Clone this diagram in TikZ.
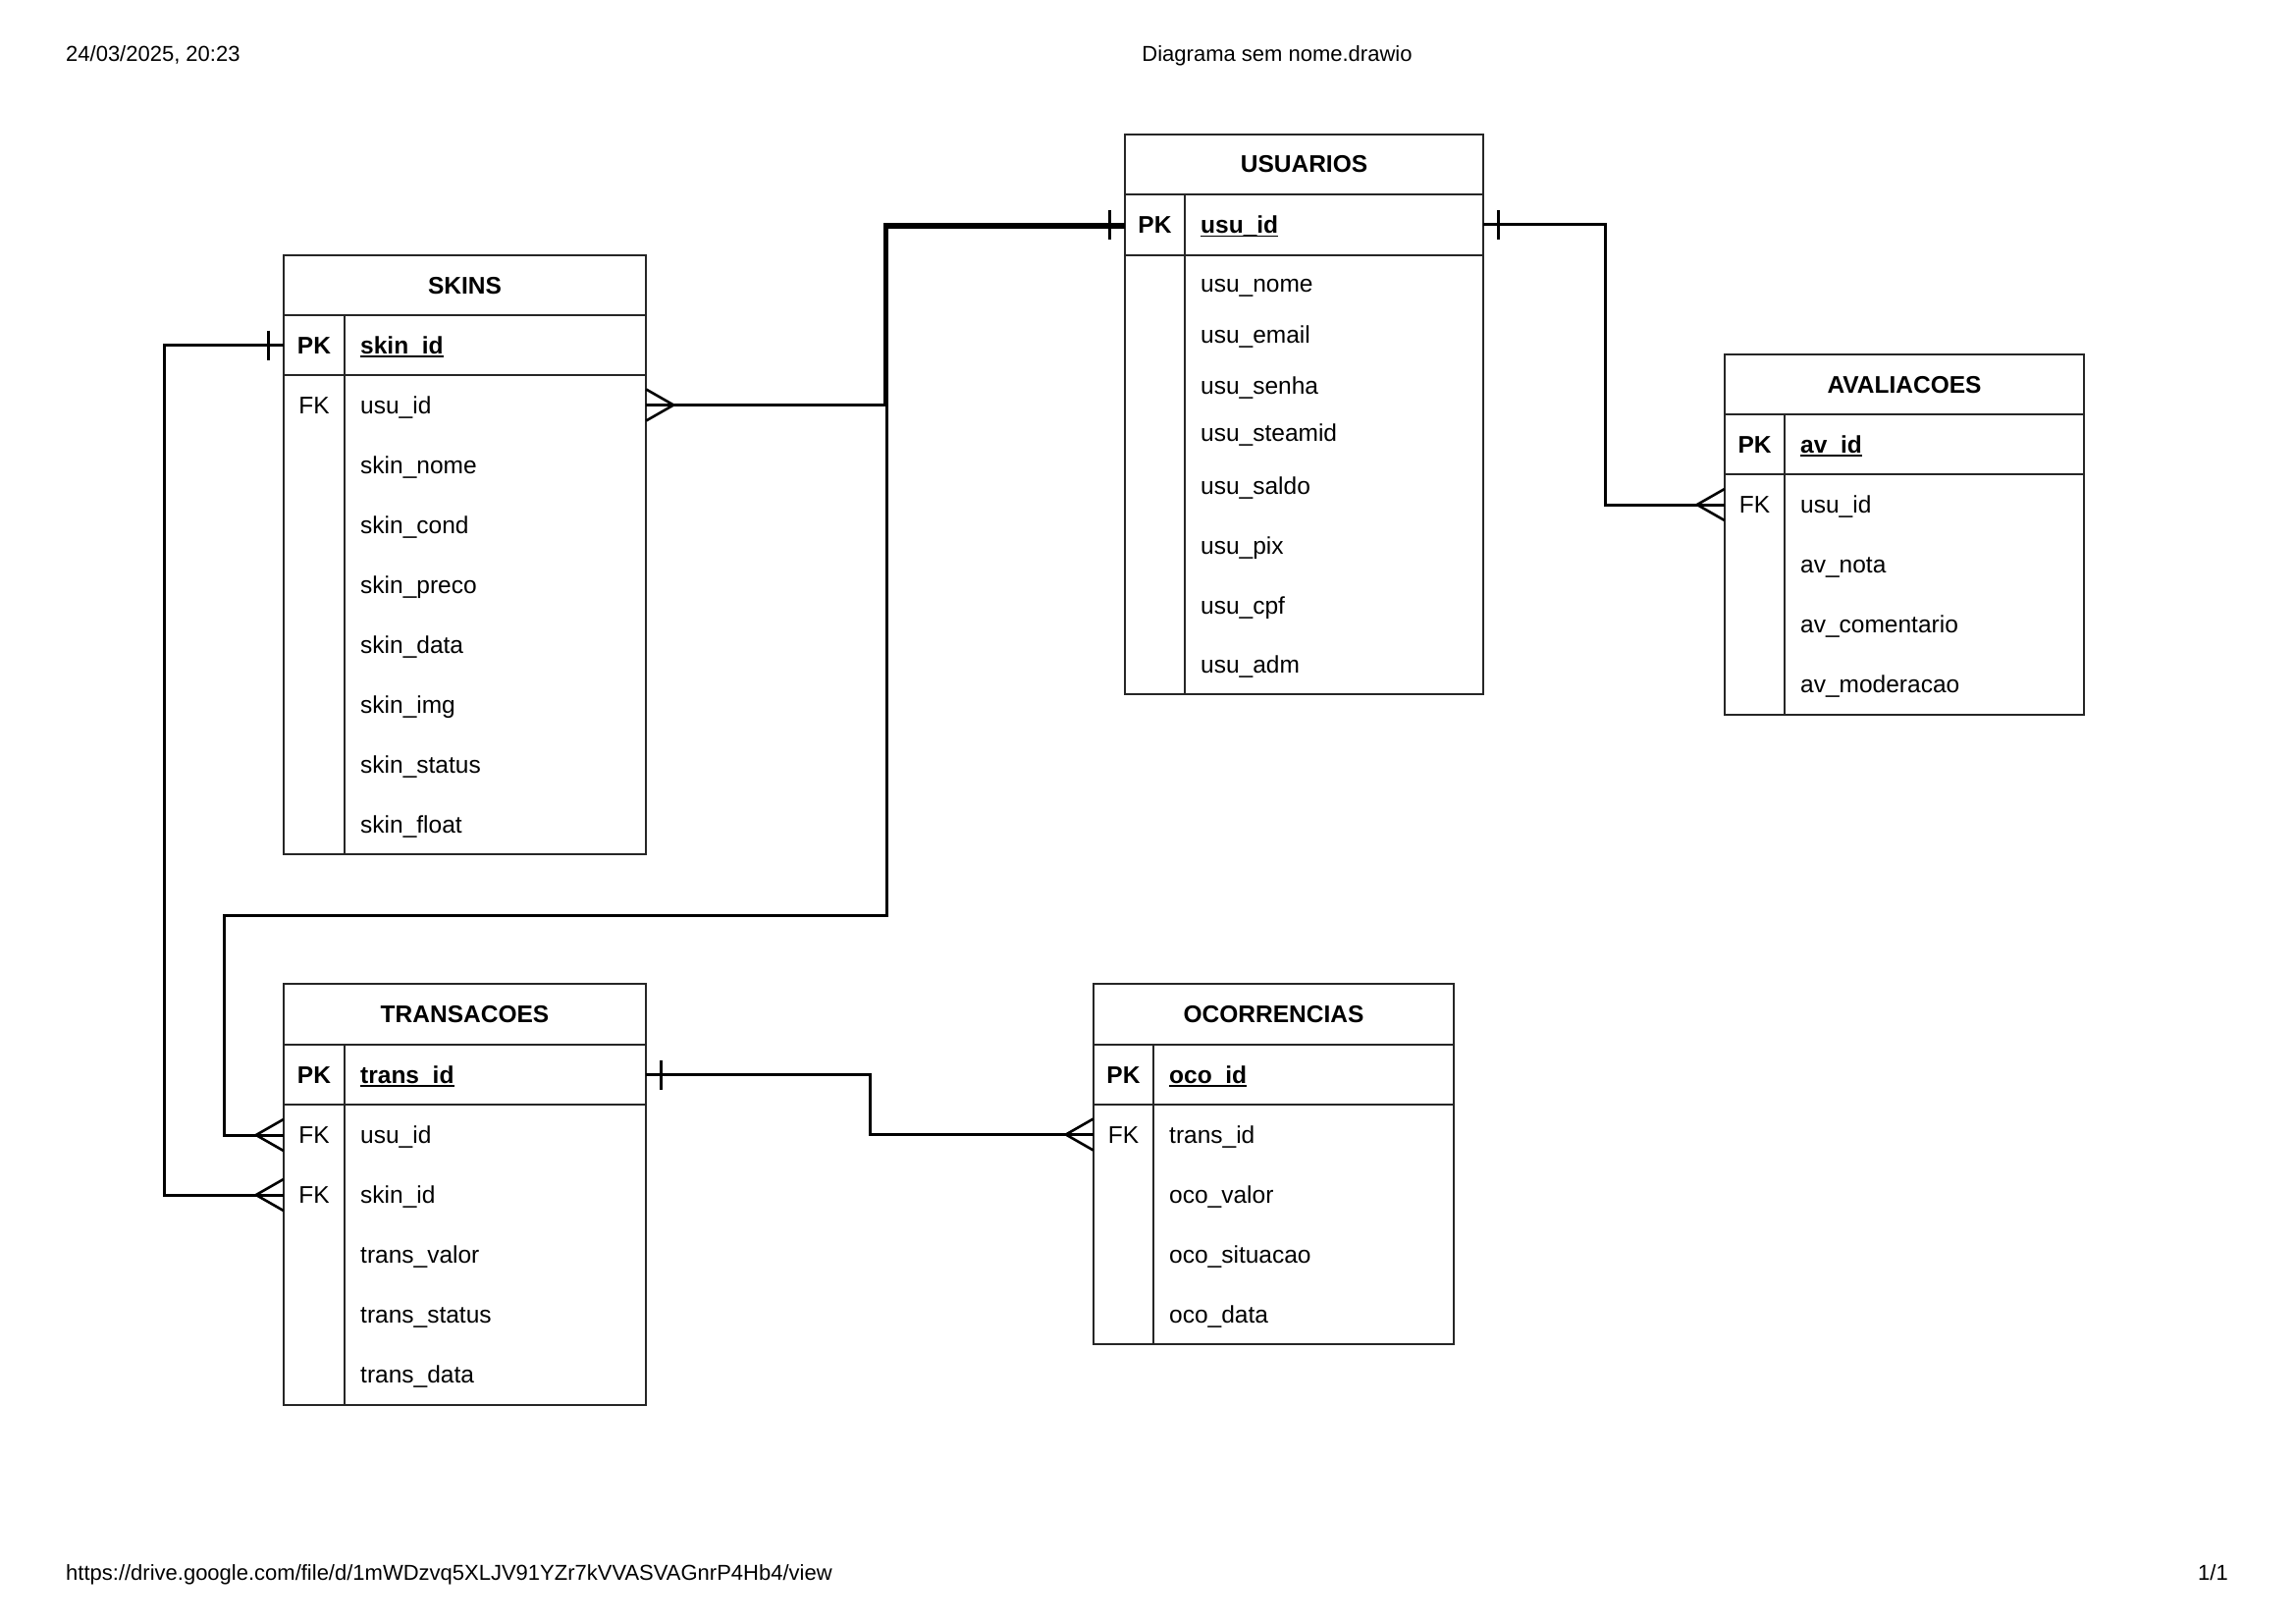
\documentclass[tikz,border=0pt]{standalone}
\usepackage{fontspec}
\setmainfont{Liberation Sans}

% table frame: #1 name, #2 left, #3 right, #4 top, #5 header rule,
% #6 key-row rule, #7 bottom, #8 key column rule, #9 title
\newcommand\ertable[9]{%
  \draw[tbl] (#2,#4) rectangle (#3,#7);
  \draw[tbl] (#2,#5) -- (#3,#5);
  \draw[tbl] (#2,#6) -- (#3,#6);
  \draw[tbl] (#8,#5) -- (#8,#7);
  \node[ttl] (#1-title) at ({(#2+#3)/2},{(#4+#5)/2+8.5}) {#9};
}
% one attribute row: #1 name, #2 left, #3 right, #4 key column rule,
% #5 row centre, #6 key label, #7 attribute, #8 text style
\newcommand\erfield[8]{%
  \node[rowbox, minimum width={(#3-#2)*1pt}] (#1) at ({(#2+#3)/2},#5) {};
  \node[keyl] (#1-key) at ({(#2+#4)/2},{#5+8.5}) {#6};
  \node[#8] (#1-name) at ({#4+16},{#5+8.5}) {#7};
}
\newcommand\pkline[1]{%
  \draw[line width=1.6pt] ([yshift=-3pt]#1-name.base west) -- ([yshift=-3pt]#1-name.base east);
}

\begin{document}
\begin{tikzpicture}[x=1pt,y=-1pt,
  tbl/.style={draw=black!85, line width=2pt},
  conn/.style={draw=black, line width=3pt},
  foot/.style={draw=black, line width=2.6pt},
  rowbox/.style={inner sep=0pt, minimum height=61pt},
  ttl/.style={font=\fontsize{24.5}{29}\selectfont\bfseries, inner sep=0pt, anchor=base},
  fld/.style={font=\fontsize{24.5}{29}\selectfont, inner sep=0pt, anchor=base west},
  pkfld/.style={font=\fontsize{24.5}{29}\selectfont\bfseries, inner sep=0pt, anchor=base west},
  keyl/.style={font=\fontsize{24.5}{29}\selectfont, inner sep=0pt, anchor=base},
  pagetxt/.style={font=\fontsize{22}{26}\selectfont, inner sep=0pt, anchor=base},
  onemark/.pic={\draw[conn] (15,-15) -- (15,15);},
  manymark/.pic={\draw[foot] (0,-16) -- (28,0) -- (0,16);},
]
\useasboundingbox[fill=white] (0,0) rectangle (2339,1653);

% page header and footer
\node[pagetxt, anchor=base west] (stamp) at (67,63) {24/03/2025, 20:23};
\node[pagetxt] (doctitle) at (1301,63) {Diagrama sem nome.drawio};
\node[pagetxt, anchor=base west] (url) at (67,1609) {https://drive.google.com/file/d/1mWDzvq5XLJV91YZr7kVVASVAGnrP4Hb4/view};
\node[pagetxt, anchor=base east] (pageno) at (2270,1609) {1/1};

% SKINS
\ertable{skins}{289}{658}{260}{321}{382}{870}{351}{SKINS}
\erfield{skins-pk}{289}{658}{351}{351.5}{\bfseries PK}{skin\_id}{pkfld}
\pkline{skins-pk}
\erfield{skins-usu}{289}{658}{351}{412.5}{FK}{usu\_id}{fld}
\erfield{skins-nome}{289}{658}{351}{473.5}{}{skin\_nome}{fld}
\erfield{skins-cond}{289}{658}{351}{534.5}{}{skin\_cond}{fld}
\erfield{skins-preco}{289}{658}{351}{595.5}{}{skin\_preco}{fld}
\erfield{skins-data}{289}{658}{351}{656.5}{}{skin\_data}{fld}
\erfield{skins-img}{289}{658}{351}{717.5}{}{skin\_img}{fld}
\erfield{skins-status}{289}{658}{351}{778.5}{}{skin\_status}{fld}
\erfield{skins-float}{289}{658}{351}{839.5}{}{skin\_float}{fld}

% USUARIOS
\ertable{usu}{1146}{1511}{137}{198}{260}{707}{1207}{USUARIOS}
\erfield{usu-pk}{1146}{1511}{1207}{229}{\bfseries PK}{usu\_id}{pkfld}
\pkline{usu-pk}
\erfield{usu-nome}{1146}{1511}{1207}{289}{}{usu\_nome}{fld}
\erfield{usu-email}{1146}{1511}{1207}{341}{}{usu\_email}{fld}
\erfield{usu-senha}{1146}{1511}{1207}{393}{}{usu\_senha}{fld}
\erfield{usu-steamid}{1146}{1511}{1207}{441}{}{usu\_steamid}{fld}
\erfield{usu-saldo}{1146}{1511}{1207}{495}{}{usu\_saldo}{fld}
\erfield{usu-pix}{1146}{1511}{1207}{556}{}{usu\_pix}{fld}
\erfield{usu-cpf}{1146}{1511}{1207}{617}{}{usu\_cpf}{fld}
\erfield{usu-adm}{1146}{1511}{1207}{677}{}{usu\_adm}{fld}

% AVALIACOES
\ertable{av}{1757}{2123}{361}{422}{483}{728}{1818}{AVALIACOES}
\erfield{av-pk}{1757}{2123}{1818}{452.5}{\bfseries PK}{av\_id}{pkfld}
\pkline{av-pk}
\erfield{av-usu}{1757}{2123}{1818}{514}{FK}{usu\_id}{fld}
\erfield{av-nota}{1757}{2123}{1818}{575}{}{av\_nota}{fld}
\erfield{av-coment}{1757}{2123}{1818}{636}{}{av\_comentario}{fld}
\erfield{av-moder}{1757}{2123}{1818}{697}{}{av\_moderacao}{fld}

% TRANSACOES
\ertable{tr}{289}{658}{1002}{1064}{1125}{1431}{351}{TRANSACOES}
\erfield{tr-pk}{289}{658}{351}{1094.5}{\bfseries PK}{trans\_id}{pkfld}
\pkline{tr-pk}
\erfield{tr-usu}{289}{658}{351}{1156}{FK}{usu\_id}{fld}
\erfield{tr-skin}{289}{658}{351}{1217}{FK}{skin\_id}{fld}
\erfield{tr-valor}{289}{658}{351}{1278}{}{trans\_valor}{fld}
\erfield{tr-status}{289}{658}{351}{1339}{}{trans\_status}{fld}
\erfield{tr-data}{289}{658}{351}{1400}{}{trans\_data}{fld}

% OCORRENCIAS
\ertable{oc}{1114}{1481}{1002}{1064}{1125}{1369}{1175}{OCORRENCIAS}
\erfield{oc-pk}{1114}{1481}{1175}{1094.5}{\bfseries PK}{oco\_id}{pkfld}
\pkline{oc-pk}
\erfield{oc-tr}{1114}{1481}{1175}{1155.5}{FK}{trans\_id}{fld}
\erfield{oc-valor}{1114}{1481}{1175}{1216.5}{}{oco\_valor}{fld}
\erfield{oc-sit}{1114}{1481}{1175}{1277.5}{}{oco\_situacao}{fld}
\erfield{oc-data}{1114}{1481}{1175}{1338.5}{}{oco\_data}{fld}

% relationships
\draw[conn] (skins-usu.east) -- (901,412.5) |- (usu-pk.west);
\draw[conn] (tr-usu.west) -| (228,932) -| (903,231.5) -- ([yshift=-2.5pt]usu-pk.west);
\draw[conn] (tr-skin.west) -- (167,1217) |- (skins-pk.west);
\draw[conn] (usu-pk.east) -| (1635,514) -- (av-usu.west);
\draw[conn] (tr-pk.east) -| (886,1155.5) -- (oc-tr.west);

% cardinality marks
\pic at (skins-usu.east) {manymark};
\pic[xscale=-1] at (usu-pk.west) {onemark};
\pic[xscale=-1] at (tr-usu.west) {manymark};
\pic[xscale=-1] at (skins-pk.west) {onemark};
\pic[xscale=-1] at (tr-skin.west) {manymark};
\pic at (usu-pk.east) {onemark};
\pic[xscale=-1] at (av-usu.west) {manymark};
\pic at (tr-pk.east) {onemark};
\pic[xscale=-1] at (oc-tr.west) {manymark};
\end{tikzpicture}
\end{document}
